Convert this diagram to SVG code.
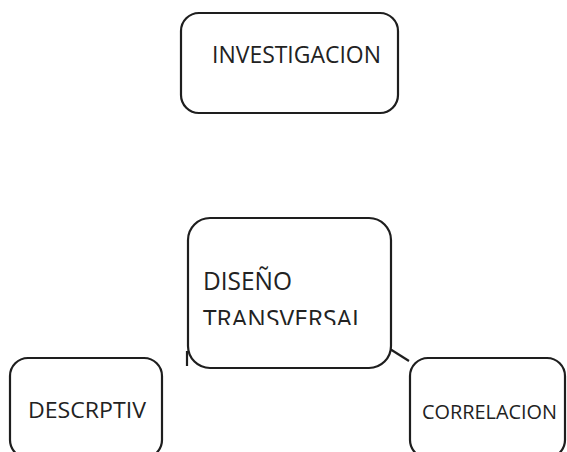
<svg xmlns="http://www.w3.org/2000/svg" width="567" height="452" viewBox="0 0 567 452">
<style>
.box{fill:#fff;stroke:#1e1e1e;stroke-width:2.2}
.lbl{font-family:"Open Sans","Liberation Sans",sans-serif;fill:#222}
.con{stroke:#1e1e1e;stroke-width:2.2;fill:none}
</style>
<defs>
<clipPath id="cutT"><rect x="190" y="290" width="200" height="35"/></clipPath>
</defs>
<rect width="567" height="452" fill="#fff"/>
<g id="connectors">
<line class="con" x1="390" y1="349" x2="409" y2="361"/>
<line class="con" x1="187" y1="351" x2="187" y2="366"/>
</g>
<g id="investigacion">
<rect class="box" x="181" y="13" width="217" height="100" rx="18"/>
<text class="lbl" x="212" y="63" font-size="24" textLength="169" lengthAdjust="spacingAndGlyphs">INVESTIGACION</text>
</g>
<g id="diseno">
<rect class="box" x="188" y="218" width="203" height="150" rx="22"/>
<text class="lbl" x="203" y="290" font-size="25" textLength="89" lengthAdjust="spacingAndGlyphs">DISEÑO</text>
<text class="lbl" x="203" y="328" font-size="25" textLength="162" lengthAdjust="spacingAndGlyphs" clip-path="url(#cutT)">TRANSVERSAL</text>
</g>
<g id="descriptiv">
<rect class="box" x="10" y="358" width="152" height="100" rx="18"/>
<text class="lbl" x="28" y="418" font-size="21" textLength="118" lengthAdjust="spacingAndGlyphs">DESCRPTIV</text>
</g>
<g id="correlacion">
<rect class="box" x="410" y="358" width="155" height="100" rx="18"/>
<text class="lbl" x="422" y="419" font-size="20" textLength="135" lengthAdjust="spacingAndGlyphs">CORRELACION</text>
</g>
</svg>
